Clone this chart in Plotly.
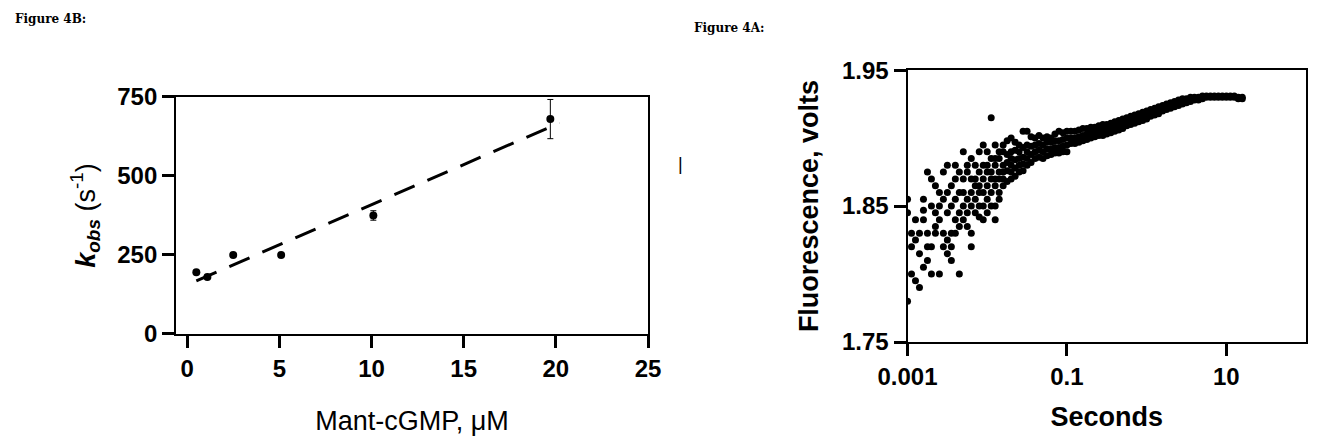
import plotly.graph_objects as go

# Figure 4B data
conc = [0.5, 1.1, 2.5, 5.1, 10.1, 19.7]
kobs = [195, 180, 250, 250, 375, 680]
kobs_err = [0, 0, 0, 0, 15, 62]
fit_x = [0.5, 20.2]
fit_y = [168, 668]

# Figure 4A data: log10(seconds) -> fluorescence readings
log_t = [-3.0, -2.95, -2.9, -2.85, -2.8, -2.75, -2.7, -2.65, -2.6, -2.55, -2.5, -2.45, -2.4, -2.35,
         -2.3, -2.25, -2.2, -2.15, -2.1, -2.05, -2.0, -1.95, -1.9, -1.85, -1.8, -1.75, -1.7, -1.65,
         -1.6, -1.55, -1.5, -1.45, -1.4, -1.35, -1.3, -1.25, -1.2, -1.15, -1.1, -1.05, -1.0, -0.95,
         -0.9, -0.85, -0.8, -0.75, -0.7, -0.65, -0.6, -0.55, -0.5, -0.45, -0.4, -0.35, -0.3, -0.25,
         -0.2, -0.15, -0.1, -0.05, 0.0, 0.05, 0.1, 0.15, 0.2, 0.25, 0.3, 0.35, 0.4, 0.45, 0.5, 0.55,
         0.6, 0.65, 0.7, 0.75, 0.8, 0.85, 0.9, 0.95, 1.0, 1.05, 1.1, 1.15, 1.2]
volts = [
    [1.855, 1.845, 1.78], [1.83, 1.82, 1.80], [1.84, 1.825, 1.795], [1.815, 1.79, 1.83],
    [1.855, 1.84, 1.805, 1.847], [1.875, 1.83, 1.82, 1.81], [1.87, 1.85, 1.82, 1.80],
    [1.865, 1.845, 1.83, 1.835], [1.86, 1.85, 1.84, 1.80], [1.875, 1.855, 1.83, 1.82],
    [1.88, 1.86, 1.845, 1.825, 1.815], [1.865, 1.85, 1.83, 1.82, 1.81],
    [1.88, 1.87, 1.855, 1.84, 1.83], [1.875, 1.86, 1.845, 1.835, 1.80],
    [1.89, 1.87, 1.86, 1.85, 1.84], [1.88, 1.875, 1.855, 1.845, 1.835],
    [1.885, 1.87, 1.86, 1.85, 1.83, 1.82], [1.88, 1.87, 1.865, 1.855, 1.845],
    [1.89, 1.875, 1.865, 1.86, 1.85, 1.842], [1.895, 1.88, 1.87, 1.86, 1.85, 1.84],
    [1.89, 1.88, 1.875, 1.865, 1.855, 1.845], [1.915, 1.885, 1.875, 1.87, 1.86, 1.85],
    [1.895, 1.885, 1.88, 1.87, 1.865, 1.85, 1.84], [1.89, 1.885, 1.875, 1.87, 1.86, 1.855],
    [1.895, 1.89, 1.88, 1.875, 1.87, 1.865], [1.898, 1.888, 1.882, 1.876, 1.868],
    [1.90, 1.89, 1.885, 1.88, 1.875, 1.87], [1.897, 1.891, 1.884, 1.878, 1.872],
    [1.895, 1.89, 1.885, 1.88, 1.875], [1.905, 1.893, 1.886, 1.881, 1.876],
    [1.905, 1.895, 1.89, 1.885, 1.88], [1.901, 1.894, 1.888, 1.882],
    [1.90, 1.895, 1.89, 1.885], [1.902, 1.896, 1.891, 1.886],
    [1.90, 1.895, 1.89, 1.885], [1.901, 1.897, 1.892, 1.887],
    [1.90, 1.897, 1.892, 1.888], [1.903, 1.898, 1.893, 1.889],
    [1.905, 1.898, 1.893, 1.889], [1.904, 1.899, 1.894, 1.89],
    [1.905, 1.90, 1.895, 1.89], [1.905, 1.90, 1.896],
    [1.905, 1.90, 1.896], [1.906, 1.901, 1.897],
    [1.907, 1.902, 1.898], [1.907, 1.903, 1.899],
    [1.908, 1.904, 1.90], [1.908, 1.904, 1.901],
    [1.909, 1.905, 1.902], [1.910, 1.906, 1.902],
    [1.91, 1.906, 1.903], [1.911, 1.907, 1.904],
    [1.912, 1.908, 1.905], [1.913, 1.909, 1.906],
    [1.914, 1.91, 1.907], [1.915, 1.912, 1.909],
    [1.916, 1.913, 1.91], [1.917, 1.914, 1.911],
    [1.918, 1.915, 1.912], [1.919, 1.916, 1.913],
    [1.92, 1.917, 1.914], [1.921, 1.918, 1.916],
    [1.922, 1.92, 1.917], [1.923, 1.921, 1.918],
    [1.924, 1.922, 1.92], [1.925, 1.923, 1.921],
    [1.926, 1.924, 1.922], [1.927, 1.925, 1.923],
    [1.928, 1.926, 1.924], [1.929, 1.927, 1.925],
    [1.929, 1.928, 1.926], [1.93, 1.928, 1.927],
    [1.93, 1.929, 1.928], [1.93, 1.929, 1.928],
    [1.931, 1.93, 1.929], [1.931, 1.93],
    [1.931, 1.93], [1.931, 1.93],
    [1.931, 1.93], [1.931, 1.93],
    [1.931, 1.93], [1.931, 1.93],
    [1.931, 1.93], [1.93, 1.929],
    [1.93, 1.929],
]

t_pts, v_pts = [], []
for lt, vs in zip(log_t, volts):
    for v in vs:
        t_pts.append(10 ** lt)
        v_pts.append(v)

fig = go.Figure()
fig.add_trace(go.Scatter(x=fit_x, y=fit_y, mode="lines",
                         line=dict(color="black", width=3, dash="22px,14px"),
                         xaxis="x", yaxis="y"))
fig.add_trace(go.Scatter(x=conc, y=kobs, mode="markers",
                         marker=dict(color="black", size=8),
                         error_y=dict(type="data", array=kobs_err, color="black", thickness=1, width=3),
                         xaxis="x", yaxis="y"))
fig.add_trace(go.Scatter(x=t_pts, y=v_pts, mode="markers",
                         marker=dict(color="black", size=7),
                         xaxis="x2", yaxis="y2"))

tickfont = dict(family="Liberation Sans", size=24, color="black", weight="bold")
common = dict(showline=True, linecolor="black", linewidth=2, mirror=True, ticks="outside",
              ticklen=12, tickwidth=3, tickcolor="black", showgrid=False, zeroline=False,
              tickfont=tickfont, automargin=False)
titlefont = dict(family="Liberation Sans", size=27, color="black")

fig.update_layout(
    width=1317, height=447, showlegend=False,
    margin=dict(l=0, r=0, t=0, b=0),
    paper_bgcolor="white", plot_bgcolor="white",
    xaxis=dict(domain=[0.1276, 0.486], range=[-0.6, 25], tickvals=[0, 5, 10, 15, 20, 25],
               anchor="y", title=dict(text="Mant-cGMP, μM", font=titlefont, standoff=30),
               **common),
    yaxis=dict(domain=[0.2707, 0.801], range=[0, 750], tickvals=[0, 250, 500, 750], anchor="x",
               title=dict(text="<b><i>k<sub>obs</sub></i></b> (s<sup>-1</sup>)", font=titlefont, standoff=14),
               **common),
    xaxis2=dict(domain=[0.683, 0.9856], type="log", range=[-3, 2], tickvals=[0.001, 0.1, 10],
                ticktext=["0.001", "0.1", "10"], anchor="y2",
                title=dict(text="<b>Seconds</b>", font=titlefont, standoff=18),
                **common),
    yaxis2=dict(domain=[0.2528, 0.861], range=[1.75, 1.95], tickvals=[1.75, 1.85, 1.95],
                tickformat=".2f", anchor="x2",
                title=dict(text="<b>Fluorescence, volts</b>", font=titlefont, standoff=16),
                **common),
    annotations=[
        dict(text="<b>Figure 4B:</b>", x=0.004, y=0.995, xref="paper", yref="paper",
             xanchor="left", yanchor="top", showarrow=False,
             font=dict(family="DejaVu Serif", size=12, color="black")),
        dict(text="<b>Figure 4A:</b>", x=0.519, y=0.975, xref="paper", yref="paper",
             xanchor="left", yanchor="top", showarrow=False,
             font=dict(family="DejaVu Serif", size=12, color="black")),
        dict(text="|", x=0.511, y=0.65, xref="paper", yref="paper", showarrow=False,
             font=dict(family="Arial", size=18, color="black")),
    ],
)

fig.write_html("out.html")
